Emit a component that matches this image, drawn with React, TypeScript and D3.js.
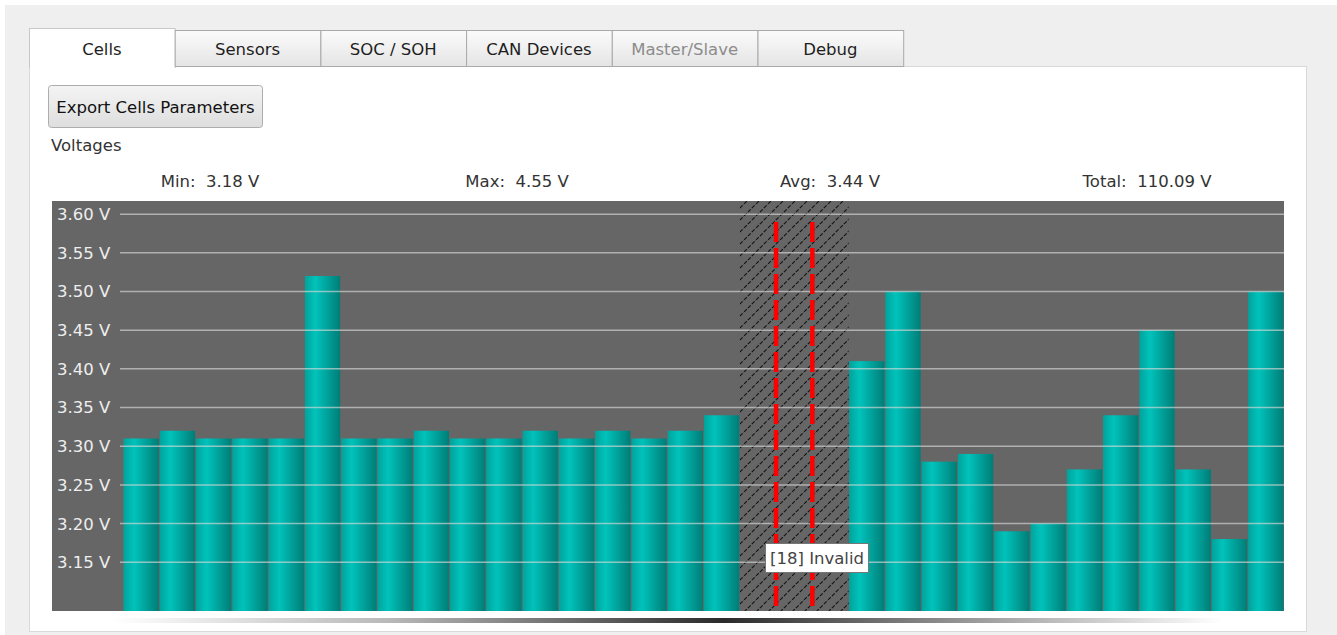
import React, { useEffect, useRef } from "react";
import * as d3 from "d3";

const tabNames = ["Cells", "Sensors", "SOC / SOH", "CAN Devices", "Master/Slave", "Debug"];
const cellVoltages: (number | null)[] = [
  3.31, 3.32, 3.31, 3.31, 3.31, 3.52, 3.31, 3.31, 3.32, 3.31, 3.31, 3.32, 3.31, 3.32, 3.31, 3.32,
  3.34, null, null, null, 3.41, 3.5, 3.28, 3.29, 3.19, 3.2, 3.27, 3.34, 3.45, 3.27, 3.18, 3.5,
];
const yTicks = [3.15, 3.2, 3.25, 3.3, 3.35, 3.4, 3.45, 3.5, 3.55, 3.6];
const statLabels = ["Min:", "Max:", "Avg:", "Total:"];
const statValues = ["3.18 V", "4.55 V", "3.44 V", "110.09 V"];
const invalidLabel = "[18] Invalid";

const FONT = "'DejaVu Sans', Verdana, sans-serif";
const FS = 16.5;

const App = () => {
  const ref = useRef<SVGSVGElement>(null);

  useEffect(() => {
    const width = 1337;
    const height = 635;
    const plot = { left: 52, right: 1284, top: 201, bottom: 611 };

    const svg = d3.select(ref.current);
    svg.selectAll("*").remove();
    svg.attr("width", width).attr("height", height).attr("viewBox", [0, 0, width, height]);

    const defs = svg.append("defs");

    const barGrad = defs.append("linearGradient").attr("id", "bar").attr("x1", 0).attr("x2", 1).attr("y1", 0).attr("y2", 0);
    barGrad.append("stop").attr("offset", "0%").attr("stop-color", "#00a39c");
    barGrad.append("stop").attr("offset", "30%").attr("stop-color", "#00c3bb");
    barGrad.append("stop").attr("offset", "100%").attr("stop-color", "#007d77");

    const tabGrad = defs.append("linearGradient").attr("id", "tab").attr("x1", 0).attr("x2", 0).attr("y1", 0).attr("y2", 1);
    tabGrad.append("stop").attr("offset", "0%").attr("stop-color", "#fbfbfb");
    tabGrad.append("stop").attr("offset", "50%").attr("stop-color", "#f0f0f0");
    tabGrad.append("stop").attr("offset", "100%").attr("stop-color", "#e4e4e4");

    const btnGrad = defs.append("linearGradient").attr("id", "btn").attr("x1", 0).attr("x2", 0).attr("y1", 0).attr("y2", 1);
    btnGrad.append("stop").attr("offset", "0%").attr("stop-color", "#f4f4f4");
    btnGrad.append("stop").attr("offset", "100%").attr("stop-color", "#dedede");

    const shadowGrad = defs.append("linearGradient").attr("id", "shadow").attr("x1", 0).attr("x2", 1).attr("y1", 0).attr("y2", 0);
    shadowGrad.append("stop").attr("offset", "0%").attr("stop-color", "#ffffff");
    shadowGrad.append("stop").attr("offset", "25%").attr("stop-color", "#b8b8b8");
    shadowGrad.append("stop").attr("offset", "55%").attr("stop-color", "#2a2a2a");
    shadowGrad.append("stop").attr("offset", "82%").attr("stop-color", "#b0b0b0");
    shadowGrad.append("stop").attr("offset", "100%").attr("stop-color", "#ffffff");

    const hatch = defs.append("pattern").attr("id", "hatch").attr("patternUnits", "userSpaceOnUse").attr("width", 12).attr("height", 12);
    hatch.append("rect").attr("width", 12).attr("height", 12).attr("fill", "#666666");
    hatch
      .append("path")
      .attr("d", "M0,12 L12,0 M-3,3 L3,-3 M9,15 L15,9")
      .attr("stroke", "#111111")
      .attr("stroke-width", 1.1)
      .attr("stroke-dasharray", "4 1.5");

    // window background
    svg.append("rect").attr("width", width).attr("height", height).attr("fill", "#ffffff");
    svg.append("rect").attr("x", 5).attr("y", 5).attr("width", width - 5).attr("height", height - 5).attr("fill", "#efefef");

    // panel
    svg.append("rect").attr("x", 29.5).attr("y", 66.5).attr("width", 1277).attr("height", 565).attr("fill", "#ffffff").attr("stroke", "#d9d9d9");

    // tabs
    const tabW = 145.7;
    const tabs = svg.append("g").attr("font-family", FONT).attr("font-size", FS);
    tabNames.forEach((name, i) => {
      const sel = i === 0;
      const x = 29 + i * tabW;
      tabs
        .append("rect")
        .attr("x", x + 0.5)
        .attr("y", sel ? 28.5 : 30.5)
        .attr("width", tabW)
        .attr("height", sel ? 39 : 36)
        .attr("fill", sel ? "#ffffff" : "url(#tab)")
        .attr("stroke", sel ? "#c8c8c8" : "#a9a9a9");
      if (sel) tabs.append("rect").attr("x", x + 1).attr("y", 66).attr("width", tabW - 1).attr("height", 2).attr("fill", "#ffffff");
      tabs
        .append("text")
        .attr("x", x + tabW / 2)
        .attr("y", 55)
        .attr("text-anchor", "middle")
        .attr("fill", name === "Master/Slave" ? "#8c8c8c" : "#1e1e1e")
        .text(name);
    });

    // button
    svg.append("rect").attr("x", 48.5).attr("y", 85.5).attr("width", 214).attr("height", 42).attr("rx", 3).attr("fill", "url(#btn)").attr("stroke", "#adadad");
    svg.append("text").attr("x", 155.5).attr("y", 113).attr("text-anchor", "middle").attr("font-family", FONT).attr("font-size", FS).attr("fill", "#111").text("Export Cells Parameters");

    svg.append("text").attr("x", 51).attr("y", 151).attr("font-family", FONT).attr("font-size", FS).attr("fill", "#333").text("Voltages");

    // stats row
    const statX = [210, 517, 830, 1147];
    statLabels.forEach((l, i) => {
      svg
        .append("text")
        .attr("x", statX[i])
        .attr("y", 187)
        .attr("text-anchor", "middle")
        .attr("font-family", FONT)
        .attr("font-size", FS)
        .attr("fill", "#333")
        .style("white-space", "pre")
        .text(`${l}  ${statValues[i]}`);
    });

    // chart
    const x = d3
      .scaleBand<number>()
      .domain(d3.range(cellVoltages.length))
      .range([123, plot.right])
      .padding(0);
    const y = d3.scaleLinear().domain([3.087, 3.617]).range([plot.bottom, plot.top]);

    svg.append("rect").attr("x", plot.left).attr("y", plot.top).attr("width", plot.right - plot.left).attr("height", plot.bottom - plot.top).attr("fill", "#666666");

    // invalid cells region
    const invalid = d3.range(cellVoltages.length).filter((i) => cellVoltages[i] === null);
    const x0 = x(invalid[0])!;
    const x1 = x(invalid[invalid.length - 1])! + x.bandwidth();
    svg.append("rect").attr("x", x0).attr("y", plot.top).attr("width", x1 - x0).attr("height", plot.bottom - plot.top).attr("fill", "url(#hatch)");

    // bars
    svg
      .append("g")
      .selectAll("rect")
      .data(d3.range(cellVoltages.length).filter((i) => cellVoltages[i] !== null))
      .join("rect")
      .attr("x", (i) => x(i)! + 0.5)
      .attr("y", (i) => y(cellVoltages[i] as number))
      .attr("width", x.bandwidth() - 1)
      .attr("height", (i) => plot.bottom - y(cellVoltages[i] as number))
      .attr("fill", "url(#bar)");

    // grid + tick labels
    const grid = svg.append("g");
    grid
      .selectAll("line")
      .data(yTicks)
      .join("line")
      .attr("x1", 120)
      .attr("x2", plot.right)
      .attr("y1", (d) => y(d))
      .attr("y2", (d) => y(d))
      .attr("stroke", "#d8d8d8")
      .attr("stroke-opacity", 0.65)
      .attr("stroke-width", 1.5);
    grid
      .selectAll("text")
      .data(yTicks)
      .join("text")
      .attr("x", 57)
      .attr("y", (d) => y(d))
      .attr("dy", "0.36em")
      .attr("font-family", FONT)
      .attr("font-size", FS)
      .attr("fill", "#eeeeee")
      .text((d) => `${d3.format(".2f")(d)} V`);

    // red dashed markers between invalid cells
    svg
      .append("g")
      .selectAll("line")
      .data(invalid.slice(1))
      .join("line")
      .attr("x1", (i) => x(i)!)
      .attr("x2", (i) => x(i)!)
      .attr("y1", plot.top + 21)
      .attr("y2", plot.bottom)
      .attr("stroke", "#ff0000")
      .attr("stroke-width", 4.5)
      .attr("stroke-dasharray", "20 6");

    // tooltip
    const tip = svg.append("g").attr("transform", "translate(765,543)");
    tip.append("rect").attr("x", 0.5).attr("y", 0.5).attr("width", 103).attr("height", 29).attr("fill", "#ffffff").attr("stroke", "#767676");
    tip.append("text").attr("x", 52).attr("y", 21).attr("text-anchor", "middle").attr("font-family", FONT).attr("font-size", FS).attr("fill", "#444").text(invalidLabel);

    // reflection shadow under the chart
    svg.append("rect").attr("x", 113).attr("y", 618).attr("width", 1110).attr("height", 5).attr("fill", "url(#shadow)");
  }, []);

  return <svg ref={ref} style={{ position: "absolute", left: 0, top: 0, display: "block" }}></svg>;
};

export default App;
